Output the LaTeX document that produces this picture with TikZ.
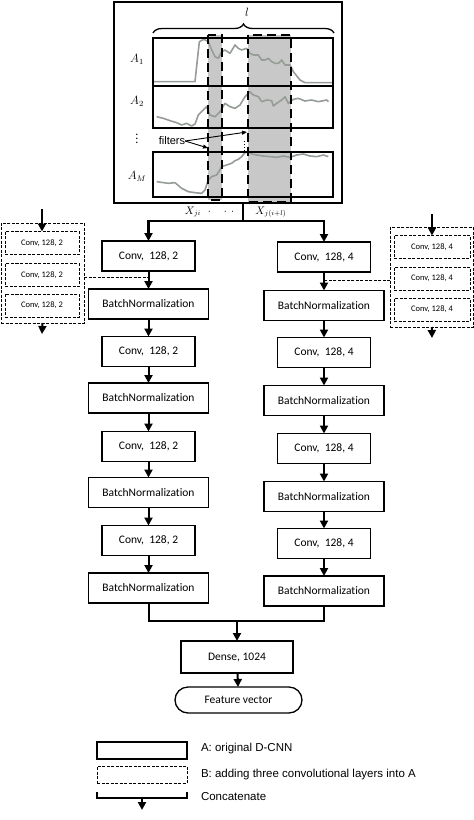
\documentclass[tikz,border=0pt]{standalone}
\usepackage{fontspec}
\setmainfont{Carlito}[Ligatures=NoCommon]
\newfontfamily\arialf{Liberation Sans}
\usetikzlibrary{arrows.meta,decorations.pathreplacing,shapes.misc}
\definecolor{filtgray}{RGB}{200,200,200}
\definecolor{sigray}{RGB}{150,156,150}
\begin{document}
\begin{tikzpicture}[x=1pt,y=-1pt,
 every node/.style={inner sep=0pt, outer sep=0pt},
 lbox/.style={draw, line width=1.3pt, minimum height=30pt, font=\fontsize{11.5}{13}\selectfont},
 convbox/.style={lbox, minimum width=93pt},
 bnbox/.style={lbox, minimum width=120pt},
 sidebox/.style={draw, line width=1pt, dash pattern=on 3pt off 1.5pt, minimum width=74pt, minimum height=23pt, font=\fontsize{8.5}{10}\selectfont},
 groupbox/.style={draw, line width=1pt, dash pattern=on 3pt off 1.5pt, minimum width=83pt, minimum height=100pt},
 arr/.style={line width=2pt, -{Triangle[length=8pt,width=8pt]}},
 thinarr/.style={line width=0.9pt, -{Triangle[length=5pt,width=4pt]}},
 dashconn/.style={line width=1pt, dash pattern=on 3pt off 1.5pt},
 filt/.style={line width=2.6pt, dash pattern=on 9pt off 5pt},
 sig/.style={sigray, line width=1.6pt, line join=round},
 lbl/.style={font=\fontsize{12}{14}\selectfont},
 legtxt/.style={anchor=west, font=\arialf\fontsize{11.5}{13}\selectfont},
]
\useasboundingbox (0,0) rectangle (474,820);

% ---------- top panel ----------
\node[draw, line width=1.2pt, minimum width=228pt, minimum height=201pt] (topbox) at (228,102.5) {};
\fill[filtgray] (208,35) rectangle (222,200);
\fill[filtgray] (248,35) rectangle (291,202);
\begin{scope}[shift={(110,0)}, x=0.33333pt, y=-0.33333pt]
\draw[sig] (130,245) -- (255,245) -- (262,180) -- (268,125) -- (282,118) -- (295,125) -- (305,150) -- (315,170) -- (325,175) -- (335,155) -- (345,150) -- (360,160) -- (375,135) -- (385,145) -- (395,150) -- (410,145) -- (420,160) -- (430,165) -- (445,165) -- (455,180) -- (465,180) -- (475,175) -- (485,185) -- (495,190) -- (505,190) -- (515,180) -- (525,195) -- (540,195) -- (550,215) -- (570,240) -- (585,248) -- (668,248);
\draw[sig] (140,350) -- (160,355) -- (180,362) -- (200,368) -- (215,375) -- (230,370) -- (245,378) -- (255,372) -- (265,345) -- (280,330) -- (290,320) -- (300,345) -- (315,350) -- (330,335) -- (345,310) -- (360,320) -- (375,325) -- (390,315) -- (405,290) -- (420,275) -- (430,285) -- (445,290) -- (455,305) -- (470,300) -- (485,302) -- (490,318) -- (500,310) -- (515,300) -- (525,290) -- (535,310) -- (550,298) -- (565,295) -- (585,303) -- (605,300) -- (625,305) -- (650,300) -- (655,305);
\draw[sig] (140,545) -- (175,550) -- (195,548) -- (215,565) -- (235,575) -- (255,578) -- (275,580) -- (285,570) -- (295,540) -- (305,530) -- (320,525) -- (335,500) -- (350,495) -- (365,490) -- (375,482) -- (385,478) -- (395,470) -- (405,458) -- (415,455) -- (425,462) -- (440,465) -- (460,468) -- (480,470) -- (500,472) -- (520,468) -- (540,472) -- (560,465) -- (580,462) -- (600,468) -- (620,470) -- (640,465) -- (655,470);
\end{scope}
\draw[line width=1.2pt] (153,38) rectangle (333,86);
\draw[line width=1.2pt] (153,86) rectangle (333,128);
\draw[line width=1.2pt] (153,152) rectangle (333,197);
\draw[filt] (208,35) rectangle (222,200);
\draw[filt] (248,35) rectangle (291,202);
\draw[line width=1.3pt, decorate, decoration={brace, amplitude=9pt}] (153,33) -- (334,33);
\node[lbl] (lab-l) at (247,12) {$l$};
\node[lbl] (lab-a1) at (137,59) {$A_1$};
\node[lbl] (lab-a2) at (137,101) {$A_2$};
\node[lbl] (lab-dots) at (137,136) {$\vdots$};
\node[lbl] (lab-am) at (137,176) {$A_M$};
\node[font=\arialf\fontsize{11}{13}\selectfont] (filters) at (172,141) {filters};
\coordinate (f1) at (208,148);
\coordinate (f2) at (247,132);
\draw[thinarr] (filters.east) -- (f1);
\draw[thinarr] (filters.east) -- (f2);
\coordinate (dt1) at (244,141);
\coordinate (dt2) at (244,152);
\draw[line width=1pt, dotted] (dt1) -- (dt2);
\node[font=\fontsize{10.5}{12}\selectfont] (xji) at (193,212) {$X_{ji}$};
\node[font=\fontsize{10.5}{12}\selectfont] (xdots) at (221,212) {$\cdot\quad\cdot\,\cdot$};
\node[font=\fontsize{10.5}{12}\selectfont] (xjil) at (271,212) {$X_{j(i+l)}$};

% ---------- columns ----------
\node[convbox] (lc1) at (148.5,256) {Conv,\ \ 128,\ 2};
\node[bnbox]   (lb1) at (148.5,304) {BatchNormalization};
\node[convbox] (lc2) at (148.5,351.5) {Conv,\ \ 128,\ 2};
\node[bnbox]   (lb2) at (148.5,398) {BatchNormalization};
\node[convbox] (lc3) at (148.5,446.5) {Conv,\ \ 128,\ 2};
\node[bnbox]   (lb3) at (148.5,492.5) {BatchNormalization};
\node[convbox] (lc4) at (148.5,540.5) {Conv,\ \ 128,\ 2};
\node[bnbox]   (lb4) at (148.5,588) {BatchNormalization};

\node[convbox] (rc1) at (324,257) {Conv,\ \ 128,\ 4};
\node[bnbox]   (rb1) at (324,305.5) {BatchNormalization};
\node[convbox] (rc2) at (324,352.5) {Conv,\ \ 128,\ 4};
\node[bnbox]   (rb2) at (324,400.5) {BatchNormalization};
\node[convbox] (rc3) at (324,448.5) {Conv,\ \ 128,\ 4};
\node[bnbox]   (rb3) at (324,496.5) {BatchNormalization};
\node[convbox] (rc4) at (324,543.5) {Conv,\ \ 128,\ 4};
\node[bnbox]   (rb4) at (324,591) {BatchNormalization};

\foreach \a/\b in {lc1/lb1,lb1/lc2,lc2/lb2,lb2/lc3,lc3/lb3,lb3/lc4,lc4/lb4,
                   rc1/rb1,rb1/rc2,rc2/rb2,rb2/rc3,rc3/rb3,rb3/rc4,rc4/rb4}
  \draw[arr] (\a) -- (\b);

% split from the top panel
\coordinate (tb) at (243,221);
\draw[line width=2.5pt] (tb |- topbox.south) -- (tb);
\draw[arr, line width=2.5pt] (tb) -| (lc1.north);
\draw[arr, line width=2.5pt] (tb) -| (rc1.north);

% ---------- side groups ----------
\node[groupbox] (lsg) at (42.5,273) {};
\node[sidebox] (ls1) at (42,243) {Conv, 128, 2};
\node[sidebox] (ls2) at (42,275) {Conv, 128, 2};
\node[sidebox] (ls3) at (42,305.5) {Conv, 128, 2};
\coordinate (lin) at (42,209);
\coordinate (lout) at (42,334);
\draw[arr] (lin) -- (ls1.north);
\draw[arr] (lsg.south) -- (lout);
\coordinate (lj) at (148.5,277);
\draw[dashconn] (lj -| lsg.east) -- (lj);

\node[groupbox] (rsg) at (431.75,277) {};
\node[sidebox, minimum width=76pt] (rs1) at (432,247) {Conv, 128, 4};
\node[sidebox, minimum width=76pt] (rs2) at (432,278.5) {Conv, 128, 4};
\node[sidebox, minimum width=76pt] (rs3) at (432,309.5) {Conv, 128, 4};
\coordinate (rin) at (432,214);
\coordinate (rout) at (432,338);
\draw[arr] (rin) -- (rs1.north);
\draw[arr] (rsg.south) -- (rout);
\coordinate (rj) at (324,280);
\draw[dashconn] (rj -| rsg.west) -- (rj);

% ---------- merge ----------
\coordinate (cb) at (237,621);
\draw[line width=2pt] (lb4.south) |- (cb) -| (rb4.south);
\node[lbox, minimum width=112pt, minimum height=32pt] (dense) at (237,657) {Dense, 1024};
\node[draw, line width=1.3pt, rounded rectangle, minimum width=127pt, minimum height=26pt, font=\fontsize{11.5}{13}\selectfont] (feat) at (238.5,700) {Feature vector};
\draw[arr] (cb) -- (dense.north);
\draw[arr] (dense) -- (feat);

% ---------- legend ----------
\node[draw, line width=1.3pt, minimum width=90pt, minimum height=17pt] (legA) at (142,750.5) {};
\node[draw, line width=1pt, dash pattern=on 3pt off 1.5pt, minimum width=90pt, minimum height=17pt] (legB) at (142,774.5) {};
\coordinate (bk1) at (97,792);
\coordinate (bk2) at (187,792);
\coordinate (bkm) at (142,798);
\coordinate (bkout) at (142,810);
\draw[line width=2pt] (bk1) |- (bkm) -| (bk2);
\draw[arr] (bkm) -- (bkout);
\node[legtxt] (tA) at (201,749) {A: original D-CNN};
\node[legtxt] (tB) at (201,775) {B: adding three convolutional layers into A};
\node[legtxt] (tC) at (201,797) {Concatenate};
\end{tikzpicture}
\end{document}
